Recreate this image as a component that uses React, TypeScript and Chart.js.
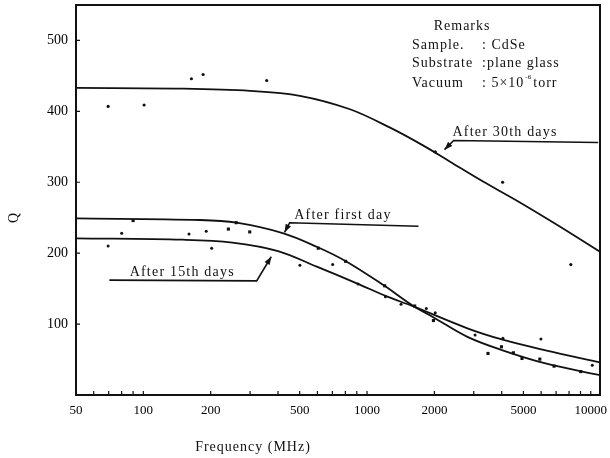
import React, { useEffect, useRef } from "react";
import { Chart, registerables } from "chart.js";

Chart.register(...registerables);

// ---- axis ticks ----
const freqTicks = [50, 100, 200, 500, 1000, 2000, 5000, 10000];
const freqMinor = [60, 70, 80, 90, 300, 400, 600, 700, 800, 900, 3000, 4000, 6000, 7000, 8000, 9000];
const qTicks = [100, 200, 300, 400, 500];

// ---- fitted curves ----
const curve30F = [50, 150, 300, 501, 839, 1268, 1778, 2350, 3300, 4680, 7240, 11000];
const curve30Q = [433, 432, 429, 422, 403, 377, 352, 329, 301, 274, 238, 202];
const curveFirstF = [50, 179, 261, 423, 596, 811, 1183, 1611, 2018, 2810, 4037, 6280, 11000];
const curveFirstQ = [249, 246.8, 243, 228, 209, 188, 155, 125.5, 108, 82, 63, 44.5, 28];
const curve15F = [50, 150, 250, 400, 596, 900, 1225, 1611, 2810, 4037, 6280, 11000];
const curve15Q = [221, 219, 215, 203, 181, 157.5, 139, 125, 94, 78, 63, 46];

// ---- measured points ----
const pts30F = [69.6, 100.8, 164, 185, 356, 2018, 4037, 8147];
const pts30Q = [407, 409, 446, 452, 443.5, 343, 300, 184];
const ptsFirstF = [90, 240, 260, 299, 605, 802, 1199, 1633, 1980, 3473, 3990, 4508, 4928, 5920, 6855, 9020];
const ptsFirstQ = [246, 234, 243, 230, 207, 188.5, 154, 125.5, 105, 58.6, 68, 59.5, 51.5, 50.6, 40.7, 33];
const pts15F = [69.6, 80, 160, 191, 202, 501, 702, 912, 1208, 1419, 1841, 2018, 3041, 4050, 5990, 10160];
const pts15Q = [210, 228, 227, 231, 207, 183, 184, 156.5, 138.5, 128, 122, 116, 84.5, 80, 79, 42];

// ---- annotation labels & leaders ----
const label30 = "After 30th days";
const label30At = [2410, 365];
const leader30F = [10800, 2439, 2220];
const leader30Q = [356, 359, 346];

const labelFirst = "After first day";
const labelFirstAt = [473, 248];
const leaderFirstF = [1698, 451, 428];
const leaderFirstQ = [238, 243, 229.5];

const label15 = "After 15th days";
const label15At = [86.9, 168];
const leader15F = [70.5, 321, 373];
const leader15Q = [162, 161, 195];

const remarksTitle = "Remarks";
const remarksTitleAt = [2660, 515];
const remarksKeys = ["Sample.", "Substrate", "Vacuum"];
const remarksVals = [": CdSe", ":plane glass", ": 5×10"];
const remarksQ = [488, 463, 435];
const remarksKeyF = 1589;
const remarksValF = 3266;

const xTitle = "Frequency (MHz)";
const yTitle = "Q";

const toXY = (fs: number[], qs: number[]) => fs.map((f, i) => ({ x: f, y: qs[i] }));

const SERIF = "'Liberation Serif', 'DejaVu Serif', serif";

const annotPlugin = {
  id: "annot",
  afterDatasetsDraw(chart: any) {
    const { ctx, chartArea: a } = chart;
    const xs = chart.scales.x;
    const ys = chart.scales.y;
    const px = (v: number) => xs.getPixelForValue(v);
    const py = (v: number) => ys.getPixelForValue(v);
    ctx.save();
    ctx.strokeStyle = "#111";
    ctx.fillStyle = "#111";

    // frame
    ctx.lineWidth = 2;
    ctx.strokeRect(a.left, a.top, a.right - a.left, a.bottom - a.top);

    // inward ticks
    ctx.lineWidth = 1.2;
    ctx.beginPath();
    [...freqTicks.slice(1), ...freqMinor].forEach((v) => {
      const x = px(v);
      ctx.moveTo(x, a.bottom);
      ctx.lineTo(x, a.bottom - 4);
    });
    qTicks.forEach((v) => {
      const y = py(v);
      ctx.moveTo(a.left, y);
      ctx.lineTo(a.left + 4, y);
    });
    ctx.stroke();

    // leaders with arrows
    const leader = (fs: number[], qs: number[]) => {
      ctx.lineWidth = 1.6;
      ctx.beginPath();
      fs.forEach((f, i) => {
        const x = px(f);
        const y = py(qs[i]);
        if (i === 0) ctx.moveTo(x, y);
        else ctx.lineTo(x, y);
      });
      ctx.stroke();
      const n = fs.length;
      const x1 = px(fs[n - 2]), y1 = py(qs[n - 2]);
      const x2 = px(fs[n - 1]), y2 = py(qs[n - 1]);
      const ang = Math.atan2(y2 - y1, x2 - x1);
      const L = 8, W = 3;
      ctx.beginPath();
      ctx.moveTo(x2, y2);
      ctx.lineTo(x2 - L * Math.cos(ang) + W * Math.sin(ang), y2 - L * Math.sin(ang) - W * Math.cos(ang));
      ctx.lineTo(x2 - L * Math.cos(ang) - W * Math.sin(ang), y2 - L * Math.sin(ang) + W * Math.cos(ang));
      ctx.closePath();
      ctx.fill();
    };
    leader(leader30F, leader30Q);
    leader(leaderFirstF, leaderFirstQ);
    leader(leader15F, leader15Q);

    // labels
    ctx.font = `14px ${SERIF}`;
    ctx.textBaseline = "alphabetic";
    ctx.textAlign = "left";
    (ctx as any).letterSpacing = "1.2px";
    ctx.fillText(label30, px(label30At[0]), py(label30At[1]));
    ctx.fillText(labelFirst, px(labelFirstAt[0]), py(labelFirstAt[1]));
    ctx.fillText(label15, px(label15At[0]), py(label15At[1]));

    // remarks
    (ctx as any).letterSpacing = "1px";
    ctx.textAlign = "center";
    ctx.fillText(remarksTitle, px(remarksTitleAt[0]), py(remarksTitleAt[1]));
    ctx.textAlign = "left";
    remarksKeys.forEach((k, i) => {
      ctx.fillText(k, px(remarksKeyF), py(remarksQ[i]));
      ctx.fillText(remarksVals[i], px(remarksValF), py(remarksQ[i]));
    });
    // vacuum exponent and unit
    const vx = px(remarksValF) + ctx.measureText(remarksVals[2]).width;
    const vy = py(remarksQ[2]);
    ctx.font = `7px ${SERIF}`;
    (ctx as any).letterSpacing = "0px";
    ctx.fillText("-6", vx + 1, vy - 8);
    ctx.font = `14px ${SERIF}`;
    (ctx as any).letterSpacing = "1px";
    ctx.fillText("torr", vx + 9, vy);

    // axis titles
    ctx.textAlign = "center";
    ctx.fillText(xTitle, 253, 451);
    ctx.save();
    ctx.translate(18, 218);
    ctx.rotate(-Math.PI / 2);
    (ctx as any).letterSpacing = "0px";
    ctx.fillText(yTitle, 0, 0);
    ctx.restore();

    ctx.restore();
  },
};

export default function App() {
  const ref = useRef<HTMLCanvasElement | null>(null);

  useEffect(() => {
    document.body.style.margin = "0";
    if (!ref.current) return;
    const lineDs = (fs: number[], qs: number[]) => ({
      data: toXY(fs, qs),
      showLine: true,
      borderColor: "#111",
      borderWidth: 1.8,
      pointRadius: 0,
      tension: 0.35,
      fill: false,
    });
    const ptDs = (fs: number[], qs: number[], style: string, r: number) => ({
      data: toXY(fs, qs),
      showLine: false,
      pointStyle: style,
      pointRadius: r,
      pointBackgroundColor: "#111",
      pointBorderColor: "#111",
      pointBorderWidth: 0,
    });
    const chart = new Chart(ref.current, {
      type: "scatter",
      data: {
        datasets: [
          lineDs(curve30F, curve30Q),
          lineDs(curveFirstF, curveFirstQ),
          lineDs(curve15F, curve15Q),
          ptDs(pts30F, pts30Q, "circle", 1.6),
          ptDs(ptsFirstF, ptsFirstQ, "rect", 2.2),
          ptDs(pts15F, pts15Q, "circle", 1.5),
        ] as any,
      },
      options: {
        animation: false,
        responsive: false,
        devicePixelRatio: 1,
        layout: { padding: { top: 5, right: 10, left: 0, bottom: 0 } },
        plugins: { legend: { display: false }, tooltip: { enabled: false } },
        scales: {
          x: {
            type: "logarithmic",
            min: 50,
            max: 11000,
            grid: { display: false, drawTicks: false },
            border: { display: false },
            afterBuildTicks: (s: any) => {
              s.ticks = freqTicks.map((v) => ({ value: v }));
            },
            afterFit: (s: any) => {
              s.height = 63;
              s.paddingLeft = 0;
              s.paddingRight = 0;
            },
            ticks: {
              autoSkip: false,
              maxRotation: 0,
              padding: 8,
              color: "#000",
              font: { family: SERIF, size: 13 },
              callback: (v: any) => String(v),
            },
          },
          y: {
            type: "linear",
            min: 0,
            max: 550,
            grid: { display: false, drawTicks: false },
            border: { display: false },
            afterBuildTicks: (s: any) => {
              s.ticks = qTicks.map((v) => ({ value: v }));
            },
            afterFit: (s: any) => {
              s.width = 76;
              s.paddingTop = 0;
              s.paddingBottom = 0;
            },
            ticks: {
              padding: 8,
              color: "#000",
              font: { family: SERIF, size: 14 },
              callback: (v: any) => String(v),
            },
          },
        },
      },
      plugins: [annotPlugin],
    });
    return () => chart.destroy();
  }, []);

  return (
    <div style={{ width: 610, height: 458, position: "relative", background: "#fff" }}>
      <canvas ref={ref} width={610} height={458} />
    </div>
  );
}
